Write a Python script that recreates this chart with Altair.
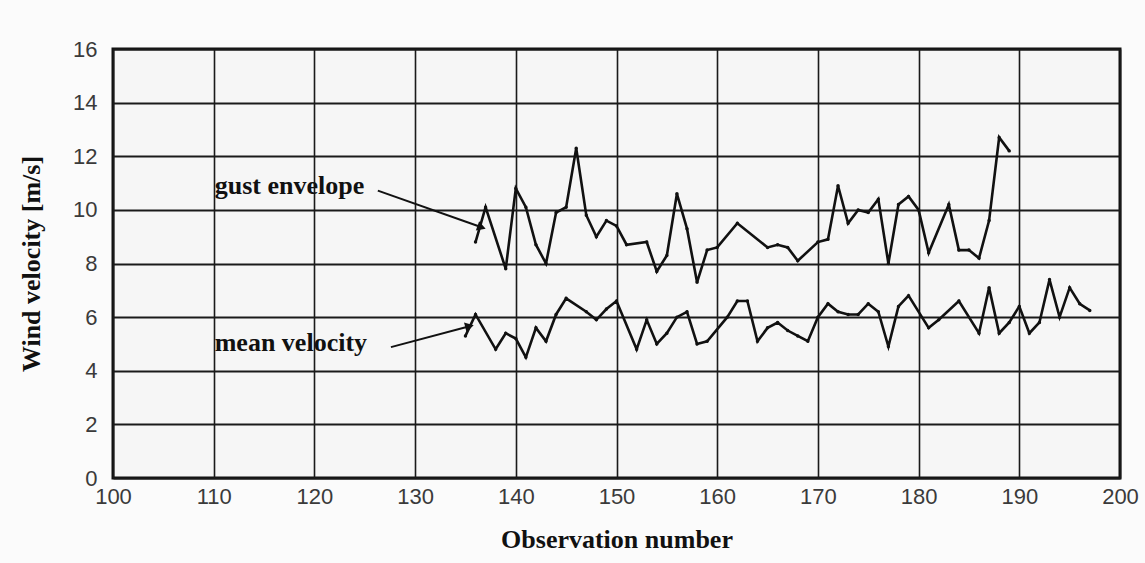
import altair as alt
import pandas as pd

# ---- data ----
gust_obs = [136, 137, 139, 140, 141, 142, 143, 144, 145, 146, 147, 148, 149, 150, 151,
            153, 154, 155, 156, 157, 158, 159, 160, 162, 165, 166, 167, 168, 170, 171,
            172, 173, 174, 175, 176, 177, 178, 179, 180, 181, 183, 184, 185, 186, 187,
            188, 189]
gust_val = [8.8, 10.1, 7.8, 10.8, 10.1, 8.7, 8.0, 9.9, 10.1, 12.3, 9.8, 9.0, 9.6, 9.4, 8.7,
            8.8, 7.7, 8.3, 10.6, 9.3, 7.3, 8.5, 8.6, 9.5, 8.6, 8.7, 8.6, 8.1, 8.8, 8.9,
            10.9, 9.5, 10.0, 9.9, 10.4, 8.0, 10.2, 10.5, 10.0, 8.4, 10.2, 8.5, 8.5, 8.2, 9.6,
            12.7, 12.2]

mean_obs = [135, 136, 138, 139, 140, 141, 142, 143, 144, 145, 147, 148, 149, 150, 152,
            153, 154, 155, 156, 157, 158, 159, 161, 162, 163, 164, 165, 166, 167, 168,
            169, 170, 171, 172, 173, 174, 175, 176, 177, 178, 179, 181, 182, 184, 186,
            187, 188, 189, 190, 191, 192, 193, 194, 195, 196, 197]
mean_val = [5.3, 6.1, 4.8, 5.4, 5.2, 4.5, 5.6, 5.1, 6.1, 6.7, 6.2, 5.9, 6.3, 6.6, 4.8,
            5.9, 5.0, 5.4, 6.0, 6.2, 5.0, 5.1, 6.0, 6.6, 6.6, 5.1, 5.6, 5.8, 5.5, 5.3,
            5.1, 6.0, 6.5, 6.2, 6.1, 6.1, 6.5, 6.2, 4.9, 6.4, 6.8, 5.6, 5.9, 6.6, 5.4,
            7.1, 5.4, 5.8, 6.4, 5.4, 5.8, 7.4, 6.0, 7.1, 6.5, 6.25]

x_ticks = list(range(100, 201, 10))
y_ticks = list(range(0, 17, 2))

# annotation labels and their arrows (data coordinates)
ann_text = ["gust envelope", "mean velocity"]
ann_tx = [110.1, 110.1]
ann_ty = [10.9, 5.05]
arr_x0 = [126.3, 127.6]
arr_y0 = [10.72, 4.88]
arr_x1 = [136.6, 135.4]
arr_y1 = [9.35, 5.66]
arr_ang = [19.6, 345.3]

df = pd.concat([
    pd.DataFrame({"obs": gust_obs, "val": gust_val, "series": "gust envelope"}),
    pd.DataFrame({"obs": mean_obs, "val": mean_val, "series": "mean velocity"}),
])
ann = pd.DataFrame({"text": ann_text, "tx": ann_tx, "ty": ann_ty,
                    "x0": arr_x0, "y0": arr_y0, "x1": arr_x1, "y1": arr_y1,
                    "ang": arr_ang})

xs = alt.Scale(domain=[100, 200], nice=False, zero=False)
ys = alt.Scale(domain=[0, 16], nice=False)

x_axis = alt.Axis(values=x_ticks, title="Observation number", grid=True,
                  gridColor="#1a1a1a", gridWidth=1.6, gridOpacity=1,
                  domain=False, ticks=False, labelFlush=False,
                  labelFont="Liberation Sans",
                  labelFontSize=22, labelColor="#3a3a3a", labelPadding=8,
                  titleFont="Liberation Serif", titleFontSize=26,
                  titleFontWeight="bold", titleColor="#111", titlePadding=19)
y_axis = alt.Axis(values=y_ticks, title="Wind velocity  [m/s]", grid=True,
                  gridColor="#1a1a1a", gridWidth=2, gridOpacity=1,
                  domain=False, ticks=False, labelFlush=False,
                  labelFont="Liberation Sans",
                  labelFontSize=22, labelColor="#3a3a3a", labelPadding=16,
                  titleFont="Liberation Serif", titleFontSize=26,
                  titleFontWeight="bold", titleColor="#111", titlePadding=28)

base = alt.Chart(df)
lines = base.mark_line(color="#111", strokeWidth=2.6).encode(
    x=alt.X("obs:Q", scale=xs, axis=x_axis),
    y=alt.Y("val:Q", scale=ys, axis=y_axis),
    detail="series:N",
)
pts = base.mark_point(color="#111", filled=True, size=12, opacity=1).encode(
    x=alt.X("obs:Q", scale=xs),
    y=alt.Y("val:Q", scale=ys),
)

abase = alt.Chart(ann)
labels = abase.mark_text(font="Liberation Serif", fontWeight="bold", fontSize=26,
                         align="left", baseline="middle", color="#111").encode(
    x=alt.X("tx:Q", scale=xs), y=alt.Y("ty:Q", scale=ys), text="text:N")
arrows = abase.mark_rule(color="#111", strokeWidth=2).encode(
    x=alt.X("x0:Q", scale=xs), y=alt.Y("y0:Q", scale=ys),
    x2="x1:Q", y2="y1:Q")
heads = abase.mark_point(shape="triangle-right", filled=True, color="#111",
                         size=100, opacity=1).encode(
    x=alt.X("x1:Q", scale=xs), y=alt.Y("y1:Q", scale=ys),
    angle=alt.Angle("ang:Q", scale=None))

chart = alt.layer(lines, pts, arrows, heads, labels).properties(
    width=1007, height=429,
    autosize=alt.AutoSizeParams(type="none"),
    padding={"left": 113, "top": 49, "right": 25, "bottom": 85},
    background="#fbfbfb",
).configure_view(stroke="#111", strokeWidth=3, fill="#f6f6f6")

chart.save("out.html", embed_options={"renderer": "svg", "actions": False})
